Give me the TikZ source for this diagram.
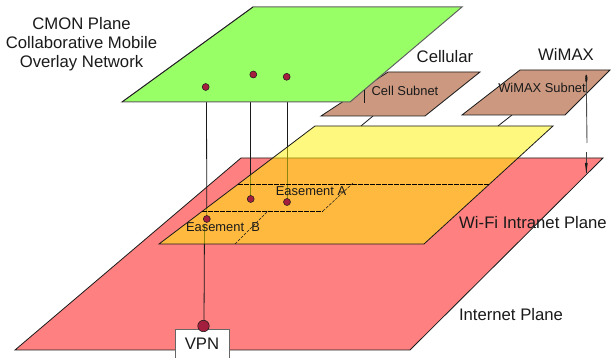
\documentclass[tikz,border=0pt]{standalone}
\usetikzlibrary{shapes.geometric}
\usepackage{fontspec}
\setmainfont{Liberation Sans}
\definecolor{planered}{HTML}{FF8080}
\definecolor{planegreen}{HTML}{99FF66}
\definecolor{subnet}{HTML}{CC9980}
\definecolor{dotred}{HTML}{A31F3D}
\definecolor{ink}{HTML}{1A1A1A}
\tikzset{
  plane/.style={draw=ink, line width=0.8pt, line join=miter},
  wire/.style={draw=ink, line width=0.8pt},
  dotnode/.style={circle, draw=ink, fill=dotred, line width=0.5pt, minimum size=7pt, inner sep=0pt},
  lab/.style={inner sep=0pt, align=center, text=ink, font=\fontsize{16.7}{19}\selectfont},
  small/.style={inner sep=0pt, text=ink, font=\fontsize{12.9}{15}\selectfont},
  dashone/.style={draw=black, line width=0.8pt, dash pattern=on 4.5pt off 1.5pt},
  dashtwo/.style={draw=ink, line width=0.5pt, dash pattern=on 3pt off 1.2pt},
}
\begin{document}
\begin{tikzpicture}[x=1pt,y=-1pt]
\useasboundingbox (0,0) rectangle (611,358);
% Internet plane
\draw[plane, fill=planered] (15,350) -- (410,350) -- (603,158) -- (241,158) -- cycle;
% named connector ends
\coordinate (t1) at (206.5,100);
\coordinate (t2) at (250.7,100);
\coordinate (t3) at (287,100);
\coordinate (b1) at (204.5,225);
\coordinate (v1) at (204,322);
\coordinate (e1) at (206.8,219);
\coordinate (e2) at (250.7,199);
\coordinate (e3) at (287,202);
% wires pass beneath the translucent Wi-Fi plane
\draw[wire] (t1) -- (e1);
\draw[wire] (t2) -- (e2);
\draw[wire] (t3) -- (e3);
\draw[wire] (b1) -- (v1);
% subnets and their links
\coordinate (c1) at (373,116);
\coordinate (c2) at (361,126);
\coordinate (w1) at (512,115);
\coordinate (w2) at (498,126);
\draw[wire] (c1) -- (c2);
\draw[wire] (w1) -- (w2);
\draw[plane, fill=subnet] (321,116) -- (425,116) -- (480,72) -- (388,72) -- cycle;
\draw[plane, fill=subnet] (462,115) -- (565,115) -- (610,70) -- (520,70) -- cycle;
% Wi-Fi plane
\fill[yellow, fill opacity=0.5] (159,244) -- (424,244) -- (553,126) -- (315,126) -- cycle;
\draw[plane] (159,244) -- (424,244) -- (553,126) -- (315,126) -- cycle;
% easements
\coordinate (ea1) at (238,184);
\coordinate (ea2) at (490,184);
\coordinate (eb1) at (202,211);
\coordinate (eb2) at (323,211);
\coordinate (ed1) at (235,244);
\coordinate (ed2) at (268,211);
\coordinate (ed3) at (353,183);
\draw[dashone] (ea1) -- (ea2);
\draw[dashone] (eb1) -- (eb2);
\draw[dashtwo] (ed1) -- (ed2);
\draw[dashtwo] (eb2) -- (ed3);
\node[dotnode] (d1) at (e1) {};
\node[dotnode] (d2) at (e2) {};
\node[dotnode] (d3) at (e3) {};
% CMON plane
\draw[plane, draw=black!62, line width=1pt, fill=planegreen] (122,102) -- (350,102) -- (462,7) -- (253,7) -- cycle;
\draw[plane, line width=0.7pt] (122,102) -- (253,7);
\node[dotnode] (g1) at (205.7,87) {};
\node[dotnode] (g2) at (253.3,74.5) {};
\node[dotnode] (g3) at (286.7,76.8) {};
% small mark by Cell Subnet
\coordinate (m1) at (364.7,90);
\coordinate (m2) at (364.7,103);
\draw[wire] (m1) -- (m2);
% WiMAX marker
\node[draw=ink, fill=ink, ellipse, minimum width=1.8pt, minimum height=7pt, inner sep=0pt] (wtop) at (586.3,78.5) {};
\coordinate (wa) at (587,143);
\coordinate (wb) at (586.3,152);
\coordinate (wc) at (586.3,173);
\draw[draw=black!70, line width=0.9pt] (wtop.south) -- (wa);
\draw[draw=black!75, line width=0.9pt] (wb) -- (wc);
\fill[ink] (584.9,163) -- (587.7,163) -- (586.3,173.5) -- cycle;
% VPN box
\node[draw=black!60, fill=white, line width=0.9pt, minimum width=54.5pt, minimum height=32pt, inner sep=0pt, anchor=north west] (vpn) at (174.5,329.5) {};
\node[dotnode, minimum size=11.5pt] (vpndot) at (203.5,326) {};
\node[lab] (vpnt) at (202,343.5) {VPN};
% labels
\node[lab] (cmon) at (81.5,44) {CMON Plane\\Collaborative Mobile\\Overlay Network};
\node[lab] (cell) at (445,57) {Cellular};
\node[lab] (wmx) at (566,54) {WiMAX};
\node[small] (cs) at (405,90.5) {Cell Subnet};
\node[small] (ws) at (542,88) {WiMAX Subnet};
\node[lab] (wifi) at (533,223) {Wi-Fi Intranet Plane};
\node[lab] (inet) at (511,315) {Internet Plane};
\node[small] (ea) at (311,191) {Easement A};
\node[small] (eb) at (223,227) {Easement\ \ B};
\end{tikzpicture}
\end{document}
